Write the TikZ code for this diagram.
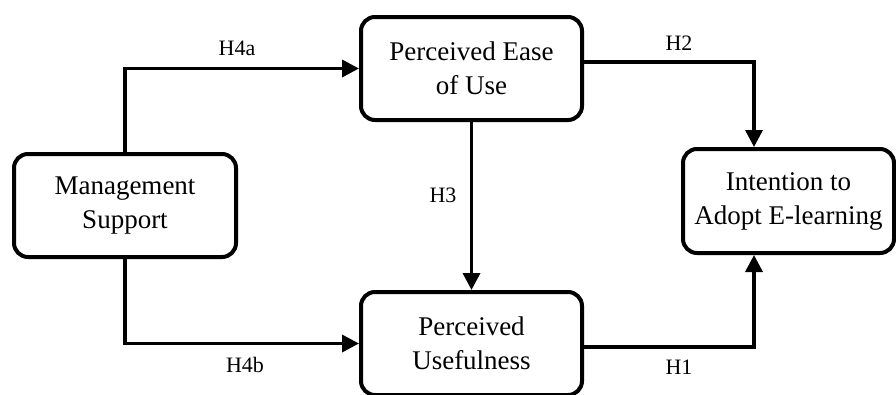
\documentclass[tikz,border=0pt]{standalone}
\usepackage{fontspec}
\setmainfont{Liberation Serif}
\usetikzlibrary{arrows.meta}

\begin{document}
\begin{tikzpicture}[
        x = 1pt,
        y = -1pt,
        factor/.style = {
                draw,
                line width = 4pt,
                rounded corners = 14pt,
                align = center,
                inner sep = 0pt,
                minimum height = 103pt,
                font = \fontsize{27}{34}\selectfont
            },
        path/.style = {
                line width = 3.5pt,
                -{Triangle[length = 17pt, width = 17pt]}
            },
        hyp/.style = {font = \fontsize{22}{26}\selectfont}
    ]

    \useasboundingbox (0,0) rectangle (896,394);

    \node[factor, minimum width = 222pt] (ms)  at (125,205.5) {Management\\Support};
    \node[factor, minimum width = 221pt] (peu) at (471.5,68.5) {Perceived Ease\\of Use};
    \node[factor, minimum width = 221pt] (pu)  at (471.5,343.5) {Perceived\\Usefulness};
    \node[factor, minimum width = 211pt, minimum height = 104pt] (ita) at (788.5,201) {Intention to\\Adopt E-learning};

    % hypotheses
    \draw[path] (ms.north) |- (peu.west);
    \draw[path] (ms.south) |- (pu.west);
    \draw[path] (peu.south) -- (pu.north);
    \draw[path] ([yshift=6.5pt]peu.east) -| ([xshift=-34.5pt]ita.north);
    \draw[path] ([yshift=-3.5pt]pu.east) -| ([xshift=-34.5pt]ita.south);

    \node[hyp] (h4a) at (237,48)  {H4a};
    \node[hyp] (h4b) at (245,365) {H4b};
    \node[hyp] (h3)  at (443,195) {H3};
    \node[hyp] (h2)  at (679,43)  {H2};
    \node[hyp] (h1)  at (679,367) {H1};

\end{tikzpicture}
\end{document}
